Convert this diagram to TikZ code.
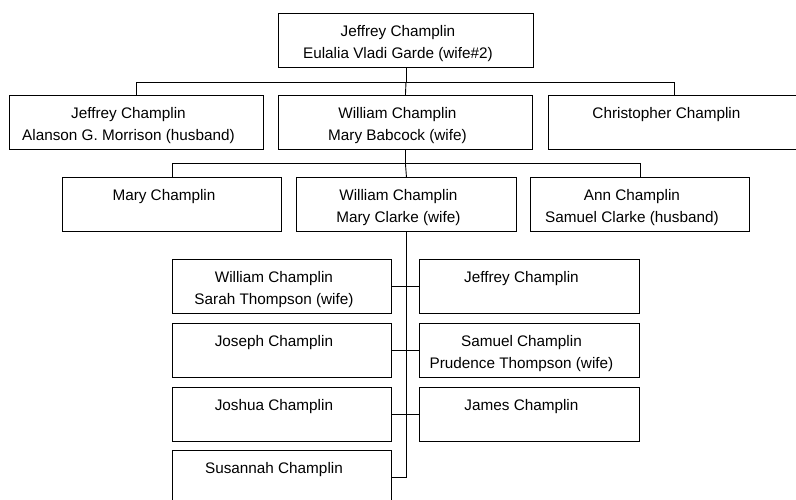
\documentclass[tikz,border=0pt]{standalone}
\usepackage{fontspec}
\setmainfont{Liberation Sans}
\newcommand\boxtxt[2]{\vbox to 54pt{\hsize=#1pt\leftskip=0pt plus 1fil\rightskip=16pt plus 1fil\parfillskip=0pt\parindent=0pt\parskip=0pt\baselineskip=21.5pt\fontsize{15.3pt}{21.5pt}\selectfont\def\\{\par}\rule{0pt}{23.5pt}#2\par\vss}}
\tikzset{
  person/.style={draw, line width=0.9pt, inner sep=0pt, anchor=north west},
  link/.style={line width=0.9pt}
}
\begin{document}
\begin{tikzpicture}[x=1pt,y=-1pt]
\useasboundingbox (0,0) rectangle (796,499);
\clip (0,0) rectangle (796,499);
% level 1
\node[person] (top) at (278,13) {\boxtxt{255}{Jeffrey Champlin\\Eulalia Vladi Garde (wife\#2)}};
% level 2
\node[person] (a2) at (9,95) {\boxtxt{254}{Jeffrey Champlin\\Alanson G. Morrison (husband)}};
\node[person] (b2) at (278,95) {\boxtxt{254}{William Champlin\\Mary Babcock (wife)}};
\node[person] (c2) at (548,95) {\boxtxt{252}{Christopher Champlin}};
% level 3
\node[person] (a3) at (62,177) {\boxtxt{219}{Mary Champlin}};
\node[person] (b3) at (296,177) {\boxtxt{220}{William Champlin\\Mary Clarke (wife)}};
\node[person] (c3) at (530,177) {\boxtxt{219}{Ann Champlin\\Samuel Clarke (husband)}};
% level 4
\node[person] (l1) at (172,259) {\boxtxt{219}{William Champlin\\Sarah Thompson (wife)}};
\node[person] (r1) at (419,259) {\boxtxt{220}{Jeffrey Champlin}};
\node[person] (l2) at (172,323) {\boxtxt{219}{Joseph Champlin}};
\node[person] (r2) at (419,323) {\boxtxt{220}{Samuel Champlin\\Prudence Thompson (wife)}};
\node[person] (l3) at (172,387) {\boxtxt{219}{Joshua Champlin}};
\node[person] (r3) at (419,387) {\boxtxt{220}{James Champlin}};
\node[person] (l4) at (172,450) {\boxtxt{219}{Susannah Champlin}};
% connectors level 1 -> 2
\coordinate (j1) at ([yshift=-15pt]top.south);
\draw[link] (top.south) -- (j1);
\draw[link] (a2.north) |- (j1) -| (c2.north);
\draw[link] (j1) -- (b2.north);
% level 2 -> 3
\coordinate (j2) at ([yshift=-14pt]b2.south);
\draw[link] (b2.south) -- (j2);
\draw[link] (a3.north) |- (j2) -| (c3.north);
\draw[link] (j2) -- (b3.north);
% level 3 -> 4
\draw[link] (b3.south) |- (l4.east);
\draw[link] (l1.east) -- (r1.west);
\draw[link] (l2.east) -- (r2.west);
\draw[link] (l3.east) -- (r3.west);
\end{tikzpicture}
\end{document}
